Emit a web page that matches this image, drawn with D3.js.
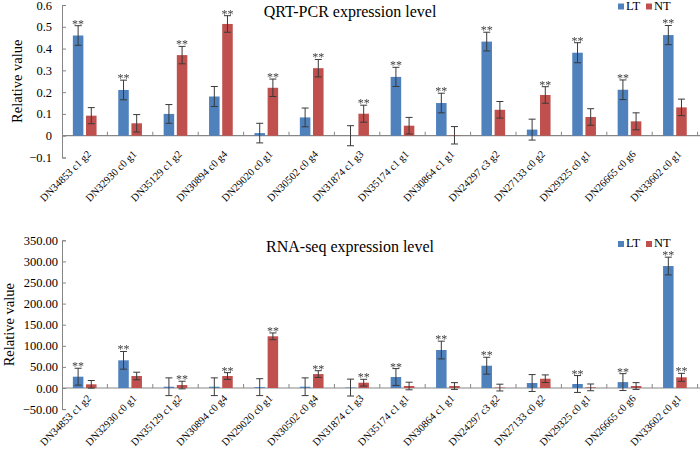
<!DOCTYPE html>
<html><head><meta charset="utf-8">
<script src="https://cdn.jsdelivr.net/npm/d3@7/dist/d3.min.js"></script>
<style>
html,body{margin:0;padding:0;background:#fff;}
text{font-family:"Liberation Serif","Times New Roman",serif;}
.stars{filter:grayscale(1);}
</style></head>
<body><svg id="c" width="700" height="453"></svg>
<script>
const categories = ["DN34853 c1 g2","DN32930 c0 g1","DN35129 c1 g2","DN30894 c0 g4","DN29020 c0 g1","DN30502 c0 g4","DN31874 c1 g3","DN35174 c1 g1","DN30864 c1 g1","DN24297 c3 g2","DN27133 c0 g2","DN29325 c0 g1","DN26665 c0 g6","DN33602 c0 g1"];
const seriesNames = ["LT","NT"];

const qpcrLT    = [0.460,0.210,0.100,0.180,0.012,0.084,0.000,0.270,0.150,0.432,0.028,0.381,0.211,0.462];
const qpcrNT    = [0.092,0.057,0.370,0.513,0.220,0.310,0.101,0.046,0.002,0.119,0.187,0.086,0.066,0.130];
const qpcrLTErr = [0.045,0.045,0.043,0.046,0.045,0.043,0.046,0.044,0.045,0.043,0.048,0.046,0.045,0.044];
const qpcrNTErr = [0.037,0.040,0.040,0.038,0.040,0.040,0.039,0.038,0.040,0.038,0.038,0.038,0.039,0.038];
const qpcrSigLT = [1,1,0,0,0,0,0,1,1,1,0,1,1,1];
const qpcrSigNT = [0,0,1,1,1,1,1,0,0,0,1,0,0,0];
const qpcrTicks = [-0.1,0,0.1,0.2,0.3,0.4,0.5,0.6];

const rnaLT    = [26.8,65.6,3,3,2,3,1,26,90,52.8,11.8,9.5,14,289];
const rnaNT    = [8.7,28.4,7,28.4,122.5,33,12.6,4.7,4.7,1,22,1.5,4.7,25.3];
const rnaLTErr = [20,21,21,21,20,21,20,20,21,20,20,20,20,21];
const rnaNTErr = [9,9,9,8,8,8,8,9,8,8,9,8,8,9.5];
const rnaSigLT = [1,1,0,0,0,0,0,1,1,1,0,1,1,1];
const rnaSigNT = [0,0,1,1,1,1,1,0,0,0,0,0,0,1];
const rnaTicks = [-50,0,50,100,150,200,250,300,350];

const colors = {LT:"#4F81BD", NT:"#C0504D"};
const svg = d3.select("#c");

function drawPanel(cfg){
  const g = svg.append("g");
  const x = d3.scaleBand().domain(categories).range([62, 697.6]).paddingInner(0).paddingOuter(0);
  const y = d3.scaleLinear().domain([cfg.ticks[0], cfg.ticks[cfg.ticks.length-1]]).range([cfg.yBottom, cfg.yTop]);
  const bw = x.bandwidth();
  const barW = bw*0.232, gap = bw*0.058;
  const y0 = y(0);

  // y axis
  const ya = g.append("g").attr("transform","translate(62,0)")
    .call(d3.axisLeft(y).tickValues(cfg.ticks).tickSize(-4).tickPadding(cfg.tickPad).tickFormat(cfg.fmt));
  ya.attr("font-family",'"Liberation Serif",serif');
  ya.select(".domain").attr("stroke","#868686");
  ya.selectAll(".tick line").attr("stroke","#868686");
  ya.selectAll(".tick text").attr("font-size","12.5px").attr("fill","#000")
    .style("font-family",'"Liberation Serif",serif');

  // zero line
  g.append("line").attr("x1",62).attr("x2",700).attr("y1",y0).attr("y2",y0).attr("stroke","#868686").attr("stroke-width",1.2);
  // category ticks
  g.selectAll(".ct").data(d3.range(1,categories.length+1)).enter().append("line")
    .attr("x1",i=>62+i*bw).attr("x2",i=>62+i*bw).attr("y1",y0).attr("y2",y0-4).attr("stroke","#868686");

  const rows = categories.map((c,i)=>[
    {c, s:"LT", v:cfg.lt[i], e:cfg.ltErr[i], sig:cfg.sigLT[i], x:x(c)+bw/2-gap/2-barW},
    {c, s:"NT", v:cfg.nt[i], e:cfg.ntErr[i], sig:cfg.sigNT[i], x:x(c)+bw/2+gap/2}
  ]).flat();

  g.selectAll(".bar").data(rows).enter().append("rect")
    .attr("x",d=>d.x).attr("width",barW)
    .attr("y",d=>Math.min(y(d.v),y0)).attr("height",d=>Math.abs(y0-y(d.v)))
    .attr("fill",d=>colors[d.s]);

  const eb = g.selectAll(".eb").data(rows).enter().append("g").attr("stroke","#3a3a3a").attr("stroke-width",1);
  eb.append("line").attr("x1",d=>d.x+barW/2).attr("x2",d=>d.x+barW/2).attr("y1",d=>y(d.v+d.e)).attr("y2",d=>y(d.v-d.e));
  eb.append("line").attr("x1",d=>d.x+barW/2-3.5).attr("x2",d=>d.x+barW/2+3.5).attr("y1",d=>y(d.v+d.e)).attr("y2",d=>y(d.v+d.e));
  eb.append("line").attr("x1",d=>d.x+barW/2-3.5).attr("x2",d=>d.x+barW/2+3.5).attr("y1",d=>y(d.v-d.e)).attr("y2",d=>y(d.v-d.e));

  const sg = g.append("g").attr("class","stars");
  sg.selectAll(".star").data(rows.filter(d=>d.sig)).enter().append("text")
    .attr("x",d=>d.x+barW/2).attr("y",d=>y(d.v+d.e)+2).attr("text-anchor","middle")
    .attr("font-size","12px").attr("fill","#404040").text("**");

  // category labels
  g.selectAll(".cl").data(categories).enter().append("text")
    .attr("transform",c=>`translate(${x(c)+bw/2+7},${y0+cfg.labOff}) rotate(-45)`)
    .attr("text-anchor","end").attr("font-size","10.5px").attr("fill","#000").text(c=>c);

  // title
  g.append("text").attr("x",350).attr("y",cfg.titleY).attr("text-anchor","middle")
    .attr("font-size","16px").attr("fill","#000").text(cfg.title);

  // y title
  g.append("text").attr("transform",`translate(${cfg.ytX},${(cfg.yTop+cfg.yBottom)/2}) rotate(-90)`)
    .attr("text-anchor","middle").attr("font-size","14.5px").attr("fill","#000").text("Relative value");

  // legend
  const lg = g.append("g");
  const lx = [618, 646];
  seriesNames.forEach((s,i)=>{
    lg.append("rect").attr("x",lx[i]).attr("y",cfg.legY-6).attr("width",6).attr("height",6).attr("fill",colors[s]);
    lg.append("text").attr("x",lx[i]+8).attr("y",cfg.legY).attr("font-size","12.5px").attr("fill","#000").text(s);
  });
}

drawPanel({lt:qpcrLT, nt:qpcrNT, ltErr:qpcrLTErr, ntErr:qpcrNTErr, sigLT:qpcrSigLT, sigNT:qpcrSigNT,
  ticks:qpcrTicks, yTop:5, yBottom:157.5, fmt:d=>d===0?"0":d3.format(".1f")(d), tickPad:10,
  title:"QRT-PCR expression level", titleY:17, ytX:22, legY:9.5, labOff:19});
drawPanel({lt:rnaLT, nt:rnaNT, ltErr:rnaLTErr, ntErr:rnaNTErr, sigLT:rnaSigLT, sigNT:rnaSigNT,
  ticks:rnaTicks, yTop:240.3, yBottom:409.1, fmt:d3.format(".2f"), tickPad:4,
  title:"RNA-seq expression level", titleY:252, ytX:14, legY:247, labOff:11});
</script>
</body></html>
